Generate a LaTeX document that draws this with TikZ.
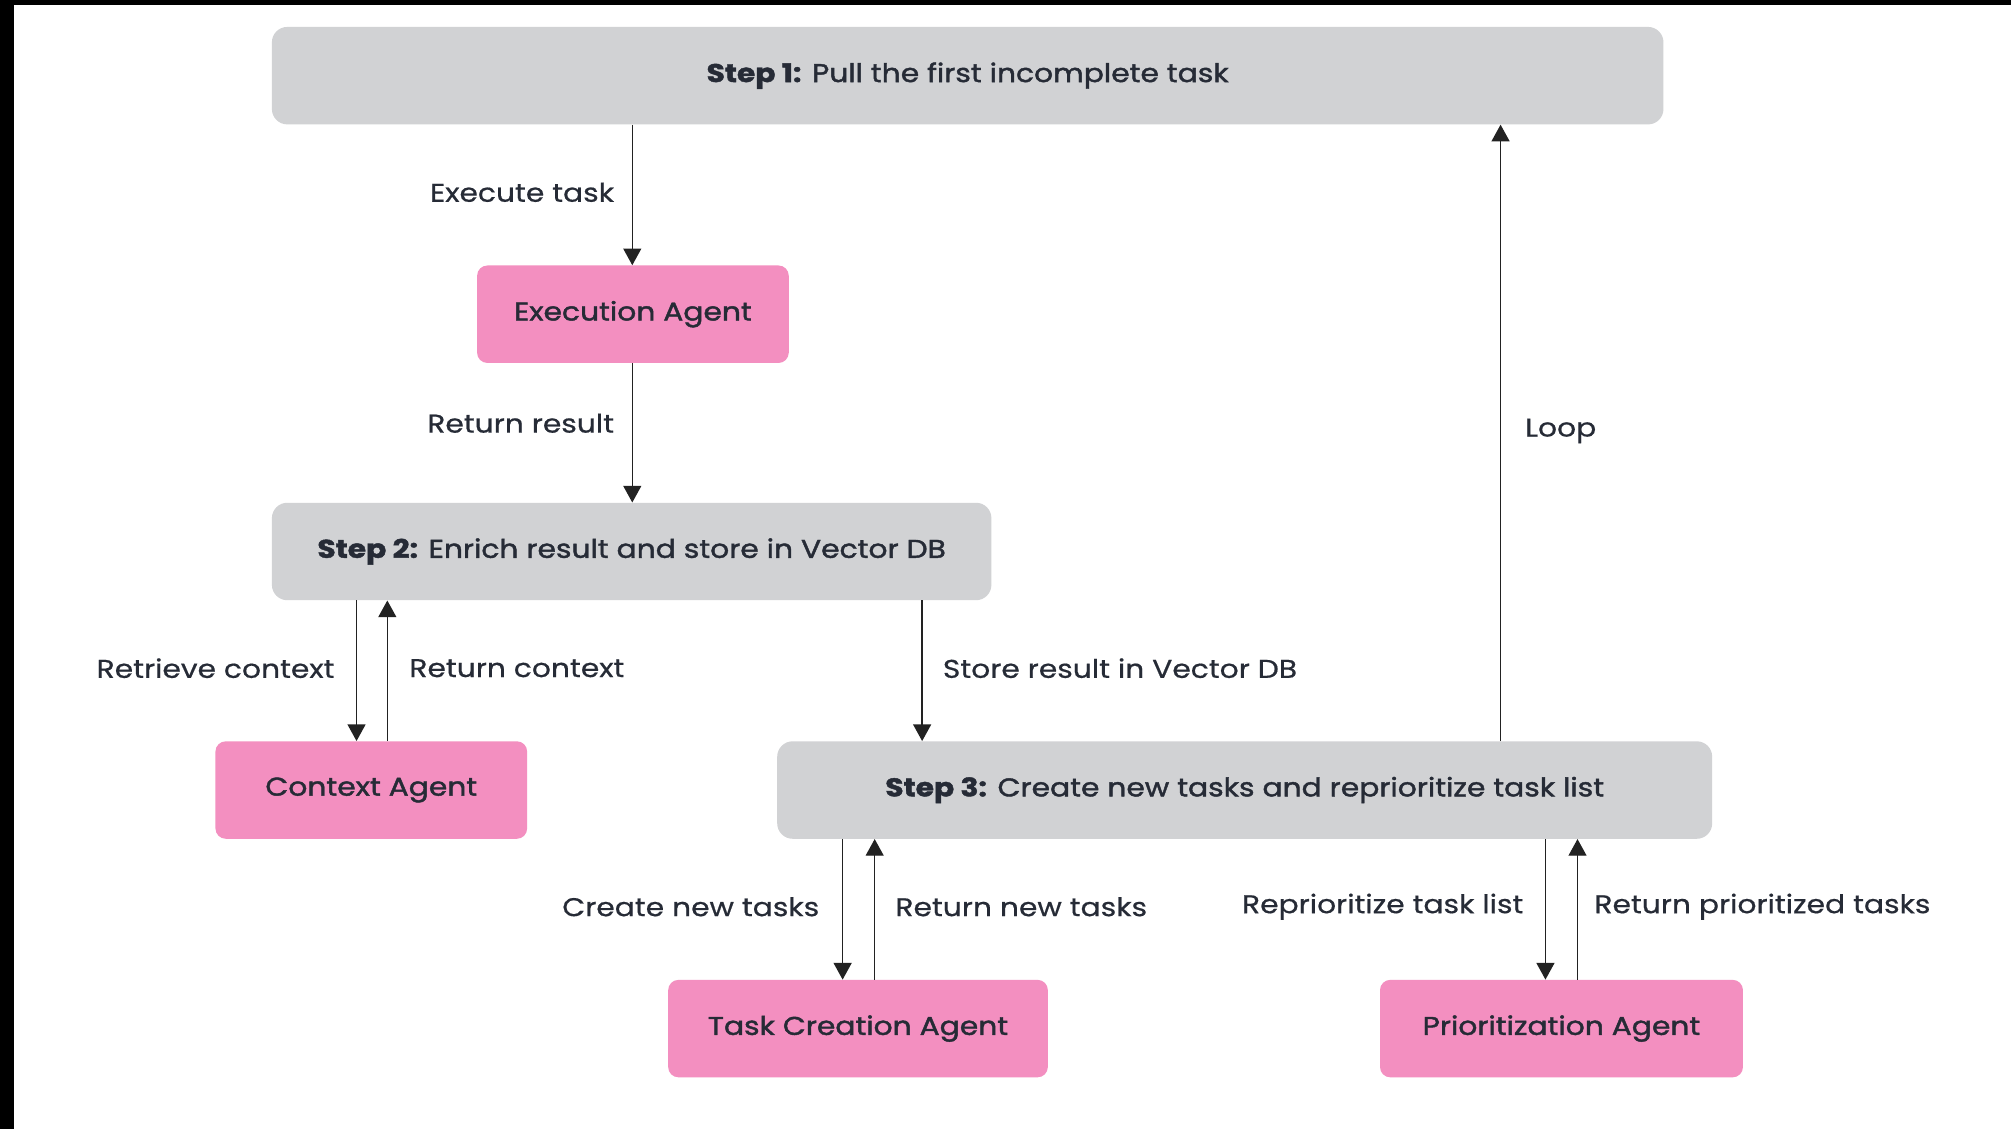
\documentclass[tikz,border=0pt]{standalone}
\usepackage{fontspec}
\setmainfont{Poppins}[FakeStretch=1.16, FakeBold=0.6]
\newfontfamily\boxfont{Poppins}[FakeStretch=1.16, FakeBold=1.6]
\usetikzlibrary{arrows.meta}
\definecolor{stepgray}{HTML}{D1D2D4}
\definecolor{agentpink}{HTML}{F38FC0}
\definecolor{txt}{HTML}{262B36}
\definecolor{linec}{HTML}{222222}
\tikzset{
  stepbox/.style={fill=stepgray, rounded corners=12pt, minimum height=76pt, inner sep=0pt, text=txt, font=\boxfont\fontsize{20}{24}\selectfont},
  agentbox/.style={fill=agentpink, rounded corners=8pt, minimum height=76pt, inner sep=0pt, text=txt, font=\boxfont\fontsize{20}{24}\selectfont},
  lbl/.style={text=txt, inner sep=0pt, font=\fontsize{20}{24}\selectfont},
  arr/.style={draw=linec, line width=1.1pt, -{Triangle[length=13pt,width=14pt]}},
}
\begin{document}
\begin{tikzpicture}[x=1pt,y=-1pt]
\useasboundingbox (0,0) rectangle (1568,880);
\fill[white] (0,0) rectangle (1568,880);
\fill[black] (0,0) rectangle (11,880);
\fill[black] (0,0) rectangle (1568,4);

% boxes
\node[stepbox, minimum width=1085pt] (s1) at (754.5,59) {\raisebox{-3pt}{\textbf{Step 1:} Pull the first incomplete task}};
\node[agentbox, minimum width=243pt] (ea) at (493.5,245) {\raisebox{-3pt}{Execution Agent}};
\node[stepbox, minimum width=561pt] (s2) at (492.5,430) {\raisebox{-3pt}{\textbf{Step 2:} Enrich result and store in Vector DB}};
\node[agentbox, minimum width=243pt] (ca) at (289.5,616) {\raisebox{-3pt}{Context Agent}};
\node[stepbox, minimum width=729pt] (s3) at (970.5,616) {\raisebox{-3pt}{\textbf{Step 3:} Create new tasks and reprioritize task list}};
\node[agentbox, minimum width=296pt] (tc) at (669,802) {\raisebox{-3pt}{Task Creation Agent}};
\node[agentbox, minimum width=283pt] (pa) at (1217.5,802) {\raisebox{-3pt}{Prioritization Agent}};

% x positions of connectors
\coordinate (xea) at (493,0);
\coordinate (xrc) at (278,0);
\coordinate (xrt) at (302,0);
\coordinate (xst) at (719,0);
\coordinate (xlp) at (1170,0);
\coordinate (xcn) at (657,0);
\coordinate (xrn) at (682,0);
\coordinate (xrp) at (1205,0);
\coordinate (xpr) at (1230,0);

% connectors
\draw[arr] (s1.south -| xea) -- (ea.north -| xea);
\draw[arr] (ea.south -| xea) -- (s2.north -| xea);
\draw[arr] (s2.south -| xrc) -- (ca.north -| xrc);
\draw[arr] (ca.north -| xrt) -- (s2.south -| xrt);
\draw[arr] (s2.south -| xst) -- (s3.north -| xst);
\draw[arr] (s3.north -| xlp) -- (s1.south -| xlp);
\draw[arr] (s3.south -| xcn) -- (tc.north -| xcn);
\draw[arr] (tc.north -| xrn) -- (s3.south -| xrn);
\draw[arr] (s3.south -| xrp) -- (pa.north -| xrp);
\draw[arr] (pa.north -| xpr) -- (s3.south -| xpr);

% labels
\node[lbl, anchor=east] (l1) at (479,150) {Execute task};
\node[lbl, anchor=east] (l2) at (479,330) {Return result};
\node[lbl, anchor=east] (l3) at (261,521) {Retrieve context};
\node[lbl, anchor=west] (l4) at (319,521) {Return context};
\node[lbl, anchor=west] (l5) at (735,521) {Store result in Vector DB};
\node[lbl, anchor=west] (l6) at (1189,336) {Loop};
\node[lbl, anchor=east] (l7) at (639,707) {Create new tasks};
\node[lbl, anchor=west] (l8) at (698,707) {Return new tasks};
\node[lbl, anchor=east] (l9) at (1188,707) {Reprioritize task list};
\node[lbl, anchor=west] (l10) at (1243,707) {Return prioritized tasks};
\end{tikzpicture}
\end{document}
